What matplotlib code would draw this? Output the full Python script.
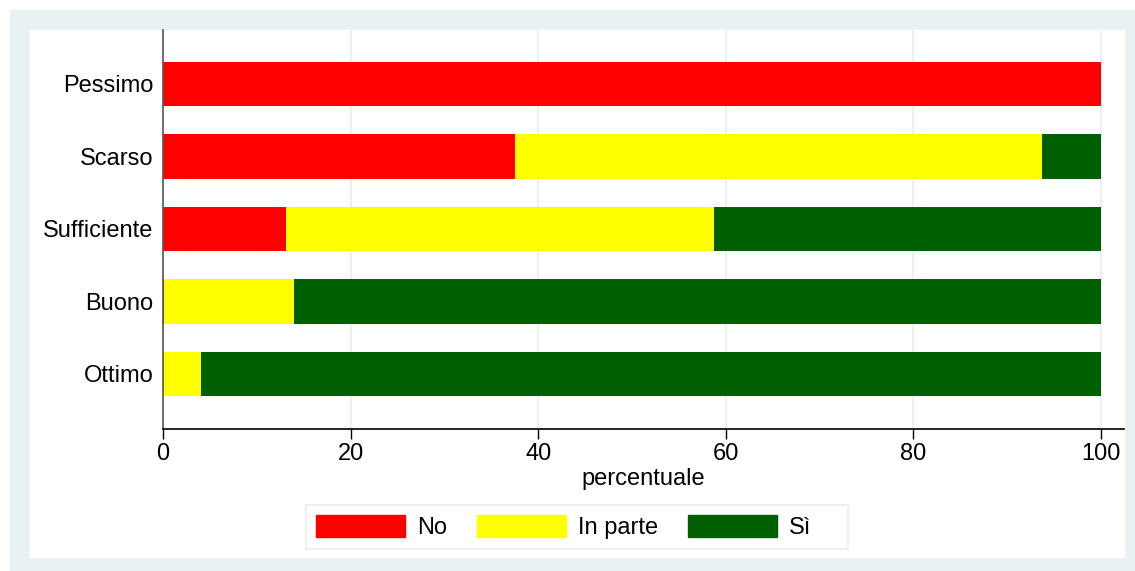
import matplotlib.pyplot as plt
import matplotlib.patches as mpatches
import numpy as np

# Data (percent shares per rating)
categories = ['Pessimo', 'Scarso', 'Sufficiente', 'Buono', 'Ottimo']
no_vals = [100.0, 37.5, 13.1, 0.1, 0.0]
inparte_vals = [0.0, 56.2, 45.6, 13.9, 4.0]
si_vals = [0.0, 6.3, 41.3, 86.0, 96.0]
series_labels = ['No', 'In parte', 'Sì']
colors = ['#FF0000', '#FFFF00', '#005F00']

plt.rcParams['font.family'] = ['Liberation Sans', 'DejaVu Sans']
FS = 17

W, H = 1135, 571
fig = plt.figure(figsize=(W / 100, H / 100), dpi=100, facecolor='white')

# Stata-like background frames
fig.patches.append(mpatches.Rectangle((10 / W, 0), 1 - 10 / W, 1 - 10 / H,
                                      transform=fig.transFigure, color='#EAF1F3', zorder=-2))
fig.patches.append(mpatches.Rectangle((30 / W, (H - 557) / H), (1124 - 30) / W, (557 - 30) / H,
                                      transform=fig.transFigure, color='white', zorder=-1))
# legend box
fig.patches.append(mpatches.Rectangle((306 / W, (H - 549) / H), (848 - 306) / W, (549 - 505) / H,
                                      transform=fig.transFigure, facecolor='white',
                                      edgecolor='#E6EDF2', linewidth=1.2, zorder=-0.5))

ax = fig.add_axes([163 / W, (H - 429) / H, (1124 - 163) / W, (429 - 30) / H])
ax.set_facecolor('none')
ax.set_zorder(2)

y = np.arange(len(categories))[::-1]
left = np.zeros(len(categories))
for vals, lab, col in zip([no_vals, inparte_vals, si_vals], series_labels, colors):
    ax.barh(y, vals, left=left, height=0.61, color=col, label=lab, linewidth=0, zorder=2)
    left = left + np.array(vals)

ax.set_xlim(0, 102.45)
ax.set_ylim(-0.76, 4.745)
ax.set_xticks([0, 20, 40, 60, 80, 100])
ax.set_yticks(y)
ax.set_yticklabels(categories)
ax.tick_params(axis='y', length=0, pad=7, labelsize=FS)
ax.tick_params(axis='x', length=7, width=1, pad=3, labelsize=FS, direction='out')
ax.grid(axis='x', color='#E6EDF2', linewidth=1.2, zorder=1)
ax.set_axisbelow(True)
for s in ['top', 'right']:
    ax.spines[s].set_visible(False)
ax.spines['left'].set_color('#555555')
ax.spines['left'].set_linewidth(1.2)
ax.spines['bottom'].set_color('black')
ax.spines['bottom'].set_linewidth(1.2)
ax.set_xlabel('percentuale', fontsize=FS, labelpad=2)

handles = [mpatches.Patch(color=c, label=l) for c, l in zip(colors, series_labels)]
leg = fig.legend(handles=handles, loc='center left', bbox_to_anchor=(316 / W, (H - 527) / H),
                 ncol=3, fontsize=FS, frameon=False,
                 handlelength=3.77, handleheight=1.02, handletextpad=0.5, columnspacing=1.27,
                 borderpad=0, borderaxespad=0)
leg.set_zorder(3)

fig.savefig('out.png', dpi=100, facecolor=fig.get_facecolor())
